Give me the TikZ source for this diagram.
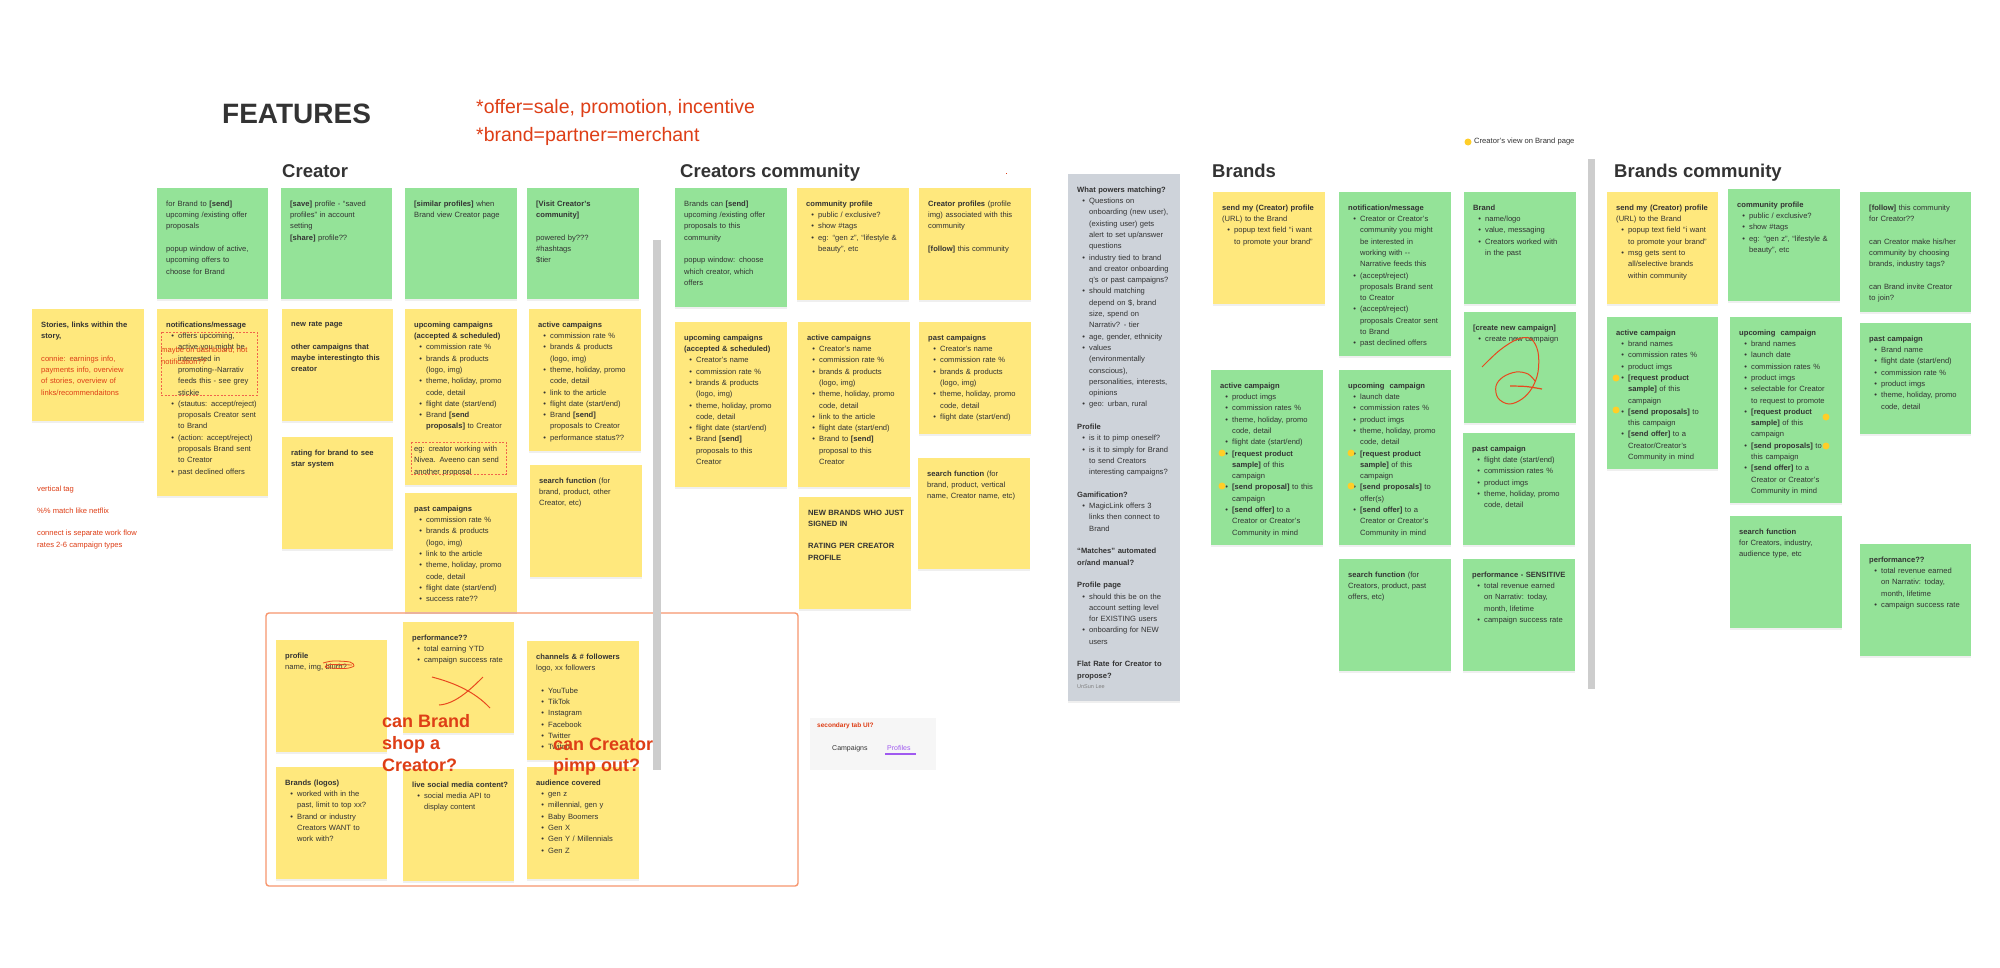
\documentclass[tikz,border=0pt]{standalone}
\usepackage{fontspec}
\setmainfont{Liberation Sans}
\usetikzlibrary{shadows}
\definecolor{grn}{RGB}{148,227,152}
\definecolor{yel}{RGB}{255,232,125}
\definecolor{gry}{RGB}{206,211,218}
\definecolor{cbar}{RGB}{205,205,205}
\definecolor{rd}{RGB}{222,62,22}
\definecolor{scr}{RGB}{232,72,30}
\definecolor{dsh}{RGB}{240,100,75}
\definecolor{org}{RGB}{247,150,110}
\definecolor{txt}{RGB}{51,51,51}
\definecolor{prp}{RGB}{160,90,240}
\definecolor{ydot}{RGB}{255,206,40}
\definecolor{tabbg}{RGB}{246,246,246}
\newcommand\NoteFont{\fontsize{7.6}{11.3}\selectfont}
\newcommand\NL{\hfil\break}
\newcommand\BL{\par\vspace{11.3pt}}
\newcommand\Itm{\par\hangindent=12pt\hangafter=0\noindent\llap{\textbullet\hspace{4.2pt}}\ignorespaces}
\newcommand\stk[7]{%
  \node[stkbox,fill=#2,minimum width=#5pt,minimum height=#6pt] (#1) at (#3,#4) {};
  \node[stktext] (#1t) at (#3+9,#4+12.5) {#7\par};}
\tikzset{
  stkbox/.style={anchor=north west,inner sep=0pt,outer sep=0pt,draw=none,
    drop shadow={shadow xshift=0pt,shadow yshift=-1.5pt,opacity=0.12}},
  stktext/.style={anchor=north west,inner sep=0pt,text width=110pt,align=left,font=\NoteFont,text=txt},
  hdr/.style={anchor=base west,inner sep=0pt,font=\fontsize{18.5}{20}\selectfont\bfseries,text=txt},
  defn/.style={anchor=base west,inner sep=0pt,font=\fontsize{19.5}{22}\selectfont,text=rd},
  bigq/.style={anchor=base west,inner sep=0pt,font=\fontsize{18}{22}\selectfont\bfseries,text=rd},
  redsmall/.style={anchor=base west,inner sep=0pt,font=\NoteFont,text=rd},
  dashbox/.style={draw=dsh,line width=0.8pt,dash pattern=on 2pt off 1.5pt},
}
\begin{document}
\begin{tikzpicture}[x=1pt,y=-1pt]
\useasboundingbox (0,0) rectangle (2000,967);
\fill[white] (0,0) rectangle (2000,967);

% titles
\node[anchor=base west,inner sep=0pt,font=\fontsize{28}{30}\selectfont\bfseries,text=txt] (tfeat) at (222,123) {FEATURES};
\node[defn] (def1) at (476,113) {*offer=sale, promotion, incentive};
\node[defn] (def2) at (476,141) {*brand=partner=merchant};
\node[hdr] (hcre) at (282,177) {Creator};
\node[hdr] (hcc) at (680,177) {Creators community};
\node[hdr] (hbr) at (1212,177) {Brands};
\node[hdr] (hbc) at (1614,177) {Brands community};
\fill[rd] (1005.5,172.5) rectangle (1007,174);
\fill[ydot] (1468,142) circle (3.5);
\node[anchor=west,inner sep=0pt,font=\NoteFont,text=txt] (legend) at (1474,142) {Creator's view on Brand page};

% orange frame and bars
\draw[org,line width=1.4pt,rounded corners=3pt] (266,613) rectangle (798,886);
\fill[cbar] (653,240) rectangle (661,770);
\fill[cbar] (1588,159) rectangle (1595,689);

% left red notes
\node[redsmall] (r1) at (37,491) {vertical tag};
\node[redsmall] (r2) at (37,513) {\%\% match like netflix};
\node[redsmall] (r3) at (37,535) {connect is separate work flow};
\node[redsmall] (r4) at (37,547) {rates 2-6 campaign types};

% ===== Creator =====
\stk{cg1}{grn}{157}{188}{111}{111}{for Brand to \textbf{[send]}\NL upcoming /existing offer\NL proposals\BL popup window of active,\NL upcoming offers to\NL choose for Brand}
\stk{cg2}{grn}{281}{188}{111}{111}{\textbf{[save]} profile - “saved\NL profiles” in account\NL setting\NL\textbf{[share]} profile??}
\stk{cg3}{grn}{405}{188}{112}{111}{\textbf{[similar profiles]} when\NL Brand view Creator page}
\stk{cg4}{grn}{527}{188}{112}{111}{\textbf{[Visit Creator's}\NL\textbf{community]}\BL powered by???\NL \#hashtags\NL \$tier}

\stk{cy0}{yel}{32}{309}{112}{112}{\textbf{Stories, links within the}\NL\textbf{story,}\BL\textcolor{rd}{connie: earnings info,\NL payments info, overview\NL of stories, overview of\NL links/recommendaitons}}
\stk{cy1}{yel}{157}{309}{111}{187}{\textbf{notifications/message}\Itm offers upcoming,\NL active you might be\NL interested in\NL promoting-{}-Narrativ\NL feeds this - see grey\NL stickie\Itm (stautus: accept/reject)\NL proposals Creator sent\NL to Brand\Itm (action: accept/reject)\NL proposals Brand sent\NL to Creator\Itm past declined offers}
\stk{cy2}{yel}{282}{309}{111}{112}{\textbf{new rate page}\BL\textbf{other campaigns that}\NL\textbf{maybe interestingto this}\NL\textbf{creator}}
\stk{cy3}{yel}{282}{437}{111}{112}{\textbf{rating for brand to see}\NL\textbf{star system}}
\stk{cy4}{yel}{405}{309}{112}{176}{\textbf{upcoming campaigns}\NL\textbf{(accepted \& scheduled)}\Itm commission rate \%\Itm brands \& products\NL (logo, img)\Itm theme, holiday, promo\NL code, detail\Itm flight date (start/end)\Itm Brand \textbf{[send}\NL\textbf{proposals]} to Creator\BL eg: creator working with\NL Nivea. Aveeno can send\NL another proposal}
\stk{cy5}{yel}{405}{493}{112}{119}{\textbf{past campaigns}\Itm commission rate \%\Itm brands \& products\NL (logo, img)\Itm link to the article\Itm theme, holiday, promo\NL code, detail\Itm flight date (start/end)\Itm success rate??}
\stk{cy6}{yel}{529}{309}{112}{142}{\textbf{active campaigns}\Itm commission rate \%\Itm brands \& products\NL (logo, img)\Itm theme, holiday, promo\NL code, detail\Itm link to the article\Itm flight date (start/end)\Itm Brand \textbf{[send]}\NL proposals to Creator\Itm performance status??}
\stk{cy7}{yel}{530}{465}{112}{112}{\textbf{search function} (for\NL brand, product, other\NL Creator, etc)}

\draw[dashbox] (161,332) rectangle (257,395);
\node[redsmall] (mb1) at (161,352) {maybe on dashboard, not};
\node[redsmall] (mb2) at (161,364) {notification??};
\draw[dashbox] (411,442) rectangle (506,474);

% profile block
\stk{cp1}{yel}{276}{640}{111}{112}{\textbf{profile}\NL name, img, blurb?}
\stk{cp2}{yel}{276}{767}{111}{112}{\textbf{Brands (logos)}\Itm worked with in the\NL past, limit to top xx?\Itm Brand or industry\NL Creators WANT to\NL work with?}
\stk{cp3}{yel}{403}{622}{111}{111}{\textbf{performance??}\Itm total earning YTD\Itm campaign success rate}
\stk{cp4}{yel}{403}{769}{111}{112}{\textbf{live social media content?}\Itm social media API to\NL display content}
\stk{cp5}{yel}{527}{641}{112}{119}{\textbf{channels \& \# followers}\NL logo, xx followers\BL\Itm YouTube\Itm TikTok\Itm Instagram\Itm Facebook\Itm Twitter\Itm Twitch}
\stk{cp6}{yel}{527}{767}{112}{112}{\textbf{audience covered}\Itm gen z\Itm millennial, gen y\Itm Baby Boomers\Itm Gen X\Itm Gen Y / Millennials\Itm Gen Z}

\draw[scr,line width=0.8pt] plot[smooth] coordinates {(323,663) (333,661) (350,662) (354,666) (345,668.5) (326,667.5) (330,664.5) (352,665)};
\draw[scr,line width=1pt] (432,677) .. controls (455,683) and (475,692) .. (490,708);
\draw[scr,line width=1pt] (439,705) .. controls (455,704) and (470,690) .. (483,677);

\node[bigq] (q1) at (382,727) {can Brand};
\node[bigq] (q2) at (382,749) {shop a};
\node[bigq] (q3) at (382,771) {Creator?};
\node[bigq] (q4) at (553,750) {can Creator};
\node[bigq] (q5) at (553,771) {pimp out?};

% secondary tab
\node[anchor=north west,fill=tabbg,minimum width=126pt,minimum height=52pt,inner sep=0pt] (tab) at (810,718) {};
\node[anchor=base west,inner sep=0pt,font=\fontsize{6.5}{8}\selectfont\bfseries,text=rd] (tabq) at (817,727) {secondary tab UI?};
\node[anchor=base west,inner sep=0pt,font=\fontsize{7}{8}\selectfont,text=txt] (tabc) at (832,750) {Campaigns};
\node[anchor=base west,inner sep=0pt,font=\fontsize{7}{8}\selectfont,text=prp] (tabp) at (887,750) {Profiles};
\draw[prp,line width=1.2pt] (885,754) -- (916,754);

% ===== Creators community =====
\stk{mg1}{grn}{675}{188}{112}{119}{Brands can \textbf{[send]}\NL upcoming /existing offer\NL proposals to this\NL community\BL popup window: choose\NL which creator, which\NL offers}
\stk{my1}{yel}{797}{188}{112}{112}{\textbf{community profile}\Itm public / exclusive?\Itm show \#tags\Itm eg: “gen z”, “lifestyle \&\NL beauty”, etc}
\stk{my2}{yel}{919}{188}{112}{112}{\textbf{Creator profiles} (profile\NL img) associated with this\NL community\BL\textbf{[follow]} this community}
\stk{my3}{yel}{675}{322}{112}{165}{\textbf{upcoming campaigns}\NL\textbf{(accepted \& scheduled)}\Itm Creator's name\Itm commission rate \%\Itm brands \& products\NL (logo, img)\Itm theme, holiday, promo\NL code, detail\Itm flight date (start/end)\Itm Brand \textbf{[send]}\NL proposals to this\NL Creator}
\stk{my4}{yel}{798}{322}{112}{165}{\textbf{active campaigns}\Itm Creator's name\Itm commission rate \%\Itm brands \& products\NL (logo, img)\Itm theme, holiday, promo\NL code, detail\Itm link to the article\Itm flight date (start/end)\Itm Brand to \textbf{[send]}\NL proposal to this\NL Creator}
\stk{my5}{yel}{919}{322}{112}{112}{\textbf{past campaigns}\Itm Creator's name\Itm commission rate \%\Itm brands \& products\NL (logo, img)\Itm theme, holiday, promo\NL code, detail\Itm flight date (start/end)}
\stk{my6}{yel}{799}{497}{112}{112}{\textbf{NEW BRANDS WHO JUST}\NL\textbf{SIGNED IN}\BL\textbf{RATING PER CREATOR}\NL\textbf{PROFILE}}
\stk{my7}{yel}{918}{458}{112}{111}{\textbf{search function} (for\NL brand, product, vertical\NL name, Creator name, etc)}

% ===== grey matching note =====
\stk{gq}{gry}{1068}{174}{112}{527}{\textbf{What powers matching?}\Itm Questions on\NL onboarding (new user),\NL (existing user) gets\NL alert to set up/answer\NL questions\Itm industry tied to brand\NL and creator onboarding\NL q's or past campaigns?\Itm should matching\NL depend on \$, brand\NL size, spend on\NL Narrativ? - tier\Itm age, gender, ethnicity\Itm values\NL (environmentally\NL conscious),\NL personalities, interests,\NL opinions\Itm geo: urban, rural\BL\textbf{Profile}\Itm is it to pimp oneself?\Itm is it to simply for Brand\NL to send Creators\NL interesting campaigns?\BL\textbf{Gamification?}\Itm MagicLink offers 3\NL links then connect to\NL Brand\BL\textbf{“Matches” automated}\NL\textbf{or/and manual?}\BL\textbf{Profile page}\Itm should this be on the\NL account setting level\NL for EXISTING users\Itm onboarding for NEW\NL users\BL\textbf{Flat Rate for Creator to}\NL\textbf{propose?}}
\node[anchor=west,inner sep=0pt,font=\fontsize{5.5}{7}\selectfont,text=black!50] (author) at (1077,687) {UnSun Lee};

% ===== Brands =====
\stk{by1}{yel}{1213}{192}{112}{112}{\textbf{send my (Creator) profile}\NL (URL) to the Brand\Itm popup text field “i want\NL to promote your brand”}
\stk{bg1}{grn}{1339}{192}{112}{164}{\textbf{notification/message}\Itm Creator or Creator's\NL community you might\NL be interested in\NL working with -{}-\NL Narrative feeds this\Itm (accept/reject)\NL proposals Brand sent\NL to Creator\Itm (accept/reject)\NL proposals Creator sent\NL to Brand\Itm past declined offers}
\stk{bg2}{grn}{1464}{192}{112}{112}{\textbf{Brand}\Itm name/logo\Itm value, messaging\Itm Creators worked with\NL in the past}
\stk{bg3}{grn}{1464}{312}{112}{111}{\textbf{[create new campaign]}\Itm create new campaign}
\stk{bg4}{grn}{1211}{370}{112}{175}{\textbf{active campaign}\Itm product imgs\Itm commission rates \%\Itm theme, holiday, promo\NL code, detail\Itm flight date (start/end)\Itm\textbf{[request product}\NL\textbf{sample]} of this\NL campaign\Itm\textbf{[send proposal]} to this\NL campaign\Itm\textbf{[send offer]} to a\NL Creator or Creator's\NL Community in mind}
\stk{bg5}{grn}{1339}{370}{112}{175}{\textbf{upcoming\ \ campaign}\Itm launch date\Itm commission rates \%\Itm product imgs\Itm theme, holiday, promo\NL code, detail\Itm\textbf{[request product}\NL\textbf{sample]} of this\NL campaign\Itm\textbf{[send proposals]} to\NL offer(s)\Itm\textbf{[send offer]} to a\NL Creator or Creator's\NL Community in mind}
\stk{bg6}{grn}{1339}{559}{112}{112}{\textbf{search function} (for\NL Creators, product, past\NL offers, etc)}
\stk{bg7}{grn}{1463}{433}{112}{112}{\textbf{past campaign}\Itm flight date (start/end)\Itm commission rates \%\Itm product imgs\Itm theme, holiday, promo\NL code, detail}
\stk{bg8}{grn}{1463}{559}{112}{112}{\textbf{performance - SENSITIVE}\Itm total revenue earned\NL on Narrativ: today,\NL month, lifetime\Itm campaign success rate}

\draw[scr,line width=1pt] plot[smooth,tension=0.6] coordinates {(1482,367) (1500,350) (1518,339) (1531,339) (1538,352) (1538,372) (1532,388) (1522,399) (1509,404) (1498,398) (1496,386) (1503,377) (1516,372) (1528,374) (1535,381)};
\draw[scr,line width=1.2pt] plot[smooth] coordinates {(1510,386) (1526,386.5) (1542,389)};

% ===== Brands community =====
\stk{ky1}{yel}{1607}{192}{111}{112}{\textbf{send my (Creator) profile}\NL (URL) to the Brand\Itm popup text field “i want\NL to promote your brand”\Itm msg gets sent to\NL all/selective brands\NL within community}
\stk{kg1}{grn}{1728}{189}{112}{112}{\textbf{community profile}\Itm public / exclusive?\Itm show \#tags\Itm eg: “gen z”, “lifestyle \&\NL beauty”, etc}
\stk{kg2}{grn}{1860}{192}{111}{120}{\textbf{[follow]} this community\NL for Creator??\BL can Creator make his/her\NL community by choosing\NL brands, industry tags?\BL can Brand invite Creator\NL to join?}
\stk{kg3}{grn}{1607}{317}{111}{152}{\textbf{active campaign}\Itm brand names\Itm commission rates \%\Itm product imgs\Itm\textbf{[request product}\NL\textbf{sample]} of this\NL campaign\Itm\textbf{[send proposals]} to\NL this campaign\Itm\textbf{[send offer]} to a\NL Creator/Creator's\NL Community in mind}
\stk{kg4}{grn}{1730}{317}{112}{186}{\textbf{upcoming\ \ campaign}\Itm brand names\Itm launch date\Itm commission rates \%\Itm product imgs\Itm selectable for Creator\NL to request to promote\Itm\textbf{[request product}\NL\textbf{sample]} of this\NL campaign\Itm\textbf{[send proposals]} to\NL this campaign\Itm\textbf{[send offer]} to a\NL Creator or Creator's\NL Community in mind}
\stk{kg5}{grn}{1730}{516}{112}{112}{\textbf{search function}\NL for Creators, industry,\NL audience type, etc}
\stk{kg6}{grn}{1860}{323}{111}{111}{\textbf{past campaign}\Itm Brand name\Itm flight date (start/end)\Itm commission rate \%\Itm product imgs\Itm theme, holiday, promo\NL code, detail}
\stk{kg7}{grn}{1860}{544}{111}{112}{\textbf{performance??}\Itm total revenue earned\NL on Narrativ: today,\NL month, lifetime\Itm campaign success rate}

% yellow marker dots
\foreach \px/\py in {1222/453,1222/486,1351/453,1351/486,1616/378,1616/410,1826/417,1826/446}
  \fill[ydot] (\px,\py) circle (3.5);
\end{tikzpicture}
\end{document}
